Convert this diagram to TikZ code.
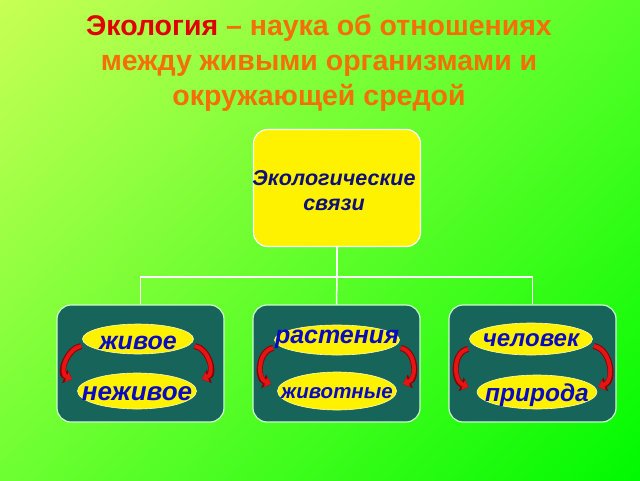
\documentclass[tikz,border=0pt]{standalone}
\usepackage{fontspec}
\setmainfont{Liberation Sans}
\usetikzlibrary{arrows.meta,shapes.geometric,shadings}
\definecolor{bgUL}{RGB}{200,255,85}
\definecolor{bgUR}{RGB}{85,255,40}
\definecolor{bgLL}{RGB}{110,255,50}
\definecolor{bgLR}{RGB}{0,250,0}
\definecolor{titleorange}{RGB}{245,110,10}
\definecolor{titlered}{RGB}{225,0,0}
\definecolor{boxteal}{RGB}{22,100,90}
\definecolor{txtblue}{RGB}{10,10,190}
\definecolor{topblue}{RGB}{15,15,120}
\definecolor{arrred}{RGB}{230,20,20}
\definecolor{arrdark}{RGB}{140,0,0}
\tikzset{
  x=1pt, y=-1pt,
  topbox/.style={draw=white, line width=1.2pt, fill=yellow, rounded corners=14pt, minimum width=167pt, minimum height=117pt, inner sep=0pt},
  lowbox/.style={draw=white!80!green, line width=1.2pt, fill=boxteal, rounded corners=14pt, minimum width=167pt, minimum height=117pt, inner sep=0pt},
  oval/.style={ellipse, fill=yellow, draw=white!70!yellow, line width=0.6pt, inner sep=0pt, text=txtblue},
  conn/.style={draw=white, line width=1.5pt},
  arrback/.style={draw=arrdark, line width=6pt, -{Triangle[length=8pt,width=14pt]}},
  arrfront/.style={draw=arrred, line width=4pt, -{Triangle[length=6pt,width=10pt]}},
}
\newcommand{\curvarr}[3]{%
  \draw[arrback] #1 #3 #2;
  \draw[arrfront] #1 #3 #2;}
\newcommand{\ofont}[1]{\bfseries\itshape\fontsize{#1}{#1}\selectfont}
\begin{document}
\begin{tikzpicture}
\useasboundingbox (0,0) rectangle (640,480);
\shade[upper left=bgUL, upper right=bgUR, lower left=bgLL, lower right=bgLR] (0,0) rectangle (640,480);

\node[align=center, font=\bfseries\fontsize{28.5}{35}\selectfont, text=titleorange] (title) at (319,63)
  {\textcolor{titlered}{Экология} – наука об отношениях\\ между живыми организмами и\\ окружающей средой};

\node[topbox] (top) at (337,188) {};
\node[align=center, font=\bfseries\itshape\fontsize{21.5}{25}\selectfont, text=topblue] (toptxt) at (334,191) {Экологические\\ связи};

\node[lowbox] (b1) at (140.5,363.5) {};
\node[lowbox] (b2) at (336.5,363.5) {};
\node[lowbox] (b3) at (532.5,363.5) {};

\coordinate (hub) at (337,277);
\draw[conn] (top.south) -- (hub);
\draw[conn] (b1.north) |- (hub) -| (b3.north);
\draw[conn] (hub) -- (b2.north);

\node[oval, minimum width=111pt, minimum height=30pt] (e11) at (138,339) {};
\node[oval, minimum width=119pt, minimum height=36pt] (e12) at (137,391) {};
\node[oval, minimum width=125pt, minimum height=30pt] (e21) at (337,340) {};
\node[oval, minimum width=119pt, minimum height=38pt] (e22) at (337,391) {};
\node[oval, minimum width=123pt, minimum height=32pt] (e31) at (531,339) {};
\node[oval, minimum width=120pt, minimum height=34pt] (e32) at (537,392) {};
\node[font=\ofont{25}, text=txtblue] (t11) at ([yshift=-4pt]e11) {живое};
\node[font=\ofont{26}, text=txtblue] (t12) at ([yshift=-3pt]e12) {неживое};
\node[font=\ofont{25}, text=txtblue] (t21) at ([yshift=1pt]e21) {растения};
\node[font=\ofont{20.5}, text=txtblue] (t22) at ([yshift=-2pt]e22) {животные};
\node[font=\ofont{24}, text=txtblue] (t31) at ([yshift=-1pt]e31) {человек};
\node[font=\ofont{24.5}, text=txtblue] (t32) at ([yshift=-3pt]e32) {природа};

\curvarr{([xshift=-1pt]e11.west |- 0,346)}{([xshift=-5pt]e12.west |- 0,379)}{to[out=190,in=160,looseness=1.1]}
\curvarr{([xshift=1pt]e11.east |- 0,346)}{([xshift=5pt]e12.east |- 0,379)}{to[out=-10,in=20,looseness=1.1]}
\curvarr{([xshift=-1pt]e21.west |- 0,348)}{([xshift=-6pt]e22.west |- 0,384)}{to[out=190,in=160,looseness=1.1]}
\curvarr{([xshift=1pt]e21.east |- 0,348)}{([xshift=6pt]e22.east |- 0,384)}{to[out=-10,in=20,looseness=1.1]}
\curvarr{([xshift=-1pt]e31.west |- 0,349)}{([xshift=-8pt]e32.west |- 0,387)}{to[out=190,in=160,looseness=1.1]}
\curvarr{([xshift=1pt]e31.east |- 0,346)}{([xshift=1pt]e32.east |- 0,387)}{to[out=-10,in=20,looseness=1.1]}
\end{tikzpicture}
\end{document}
